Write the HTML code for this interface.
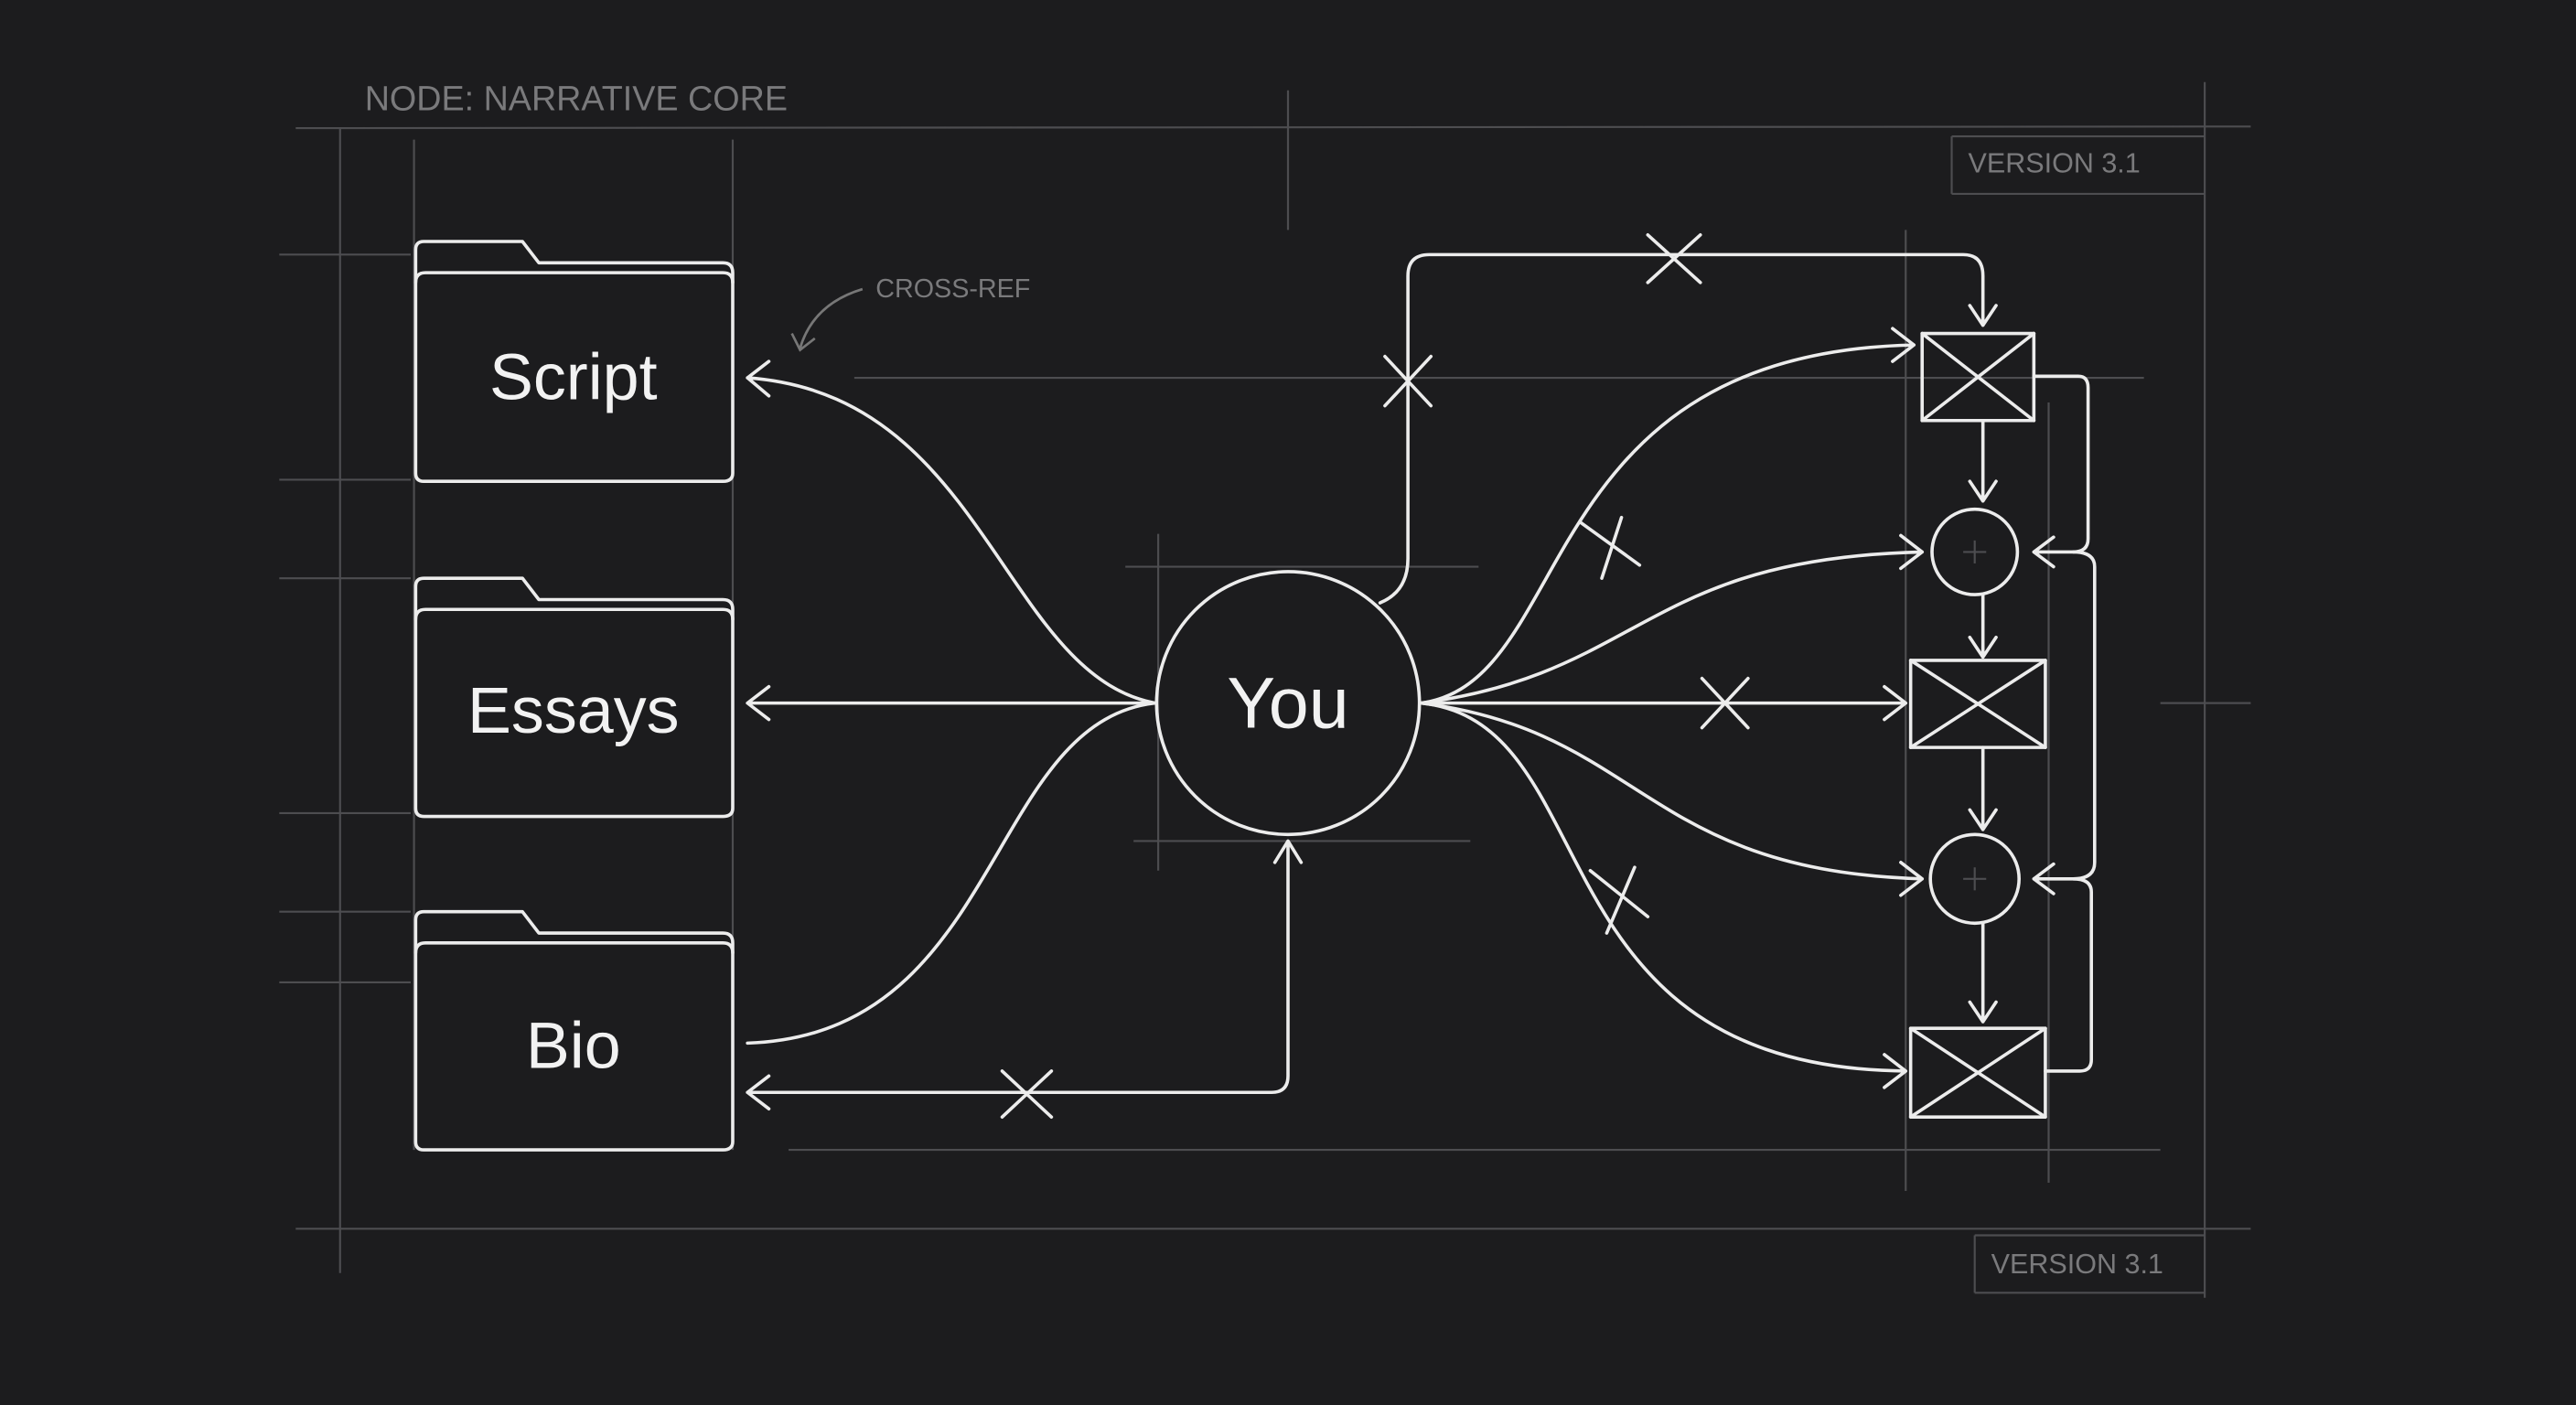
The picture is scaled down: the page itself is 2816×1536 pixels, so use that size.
<!DOCTYPE html>
<html><head><meta charset="utf-8"><style>
html,body{margin:0;padding:0;background:#1c1c1e;}
svg{display:block}
.g{stroke:#4d4d50;stroke-width:1.2;fill:none}
.w{stroke:#ececec;stroke-width:2;fill:none;stroke-linecap:round;stroke-linejoin:round}
.t{font-family:"Liberation Sans",sans-serif;fill:#f2f2f2}
.s{font-family:"Liberation Sans",sans-serif;fill:#7a7a7c}
</style></head><body>
<svg width="2816" height="1536" viewBox="0 0 1568 855.3" preserveAspectRatio="none" xmlns="http://www.w3.org/2000/svg">
<rect width="1568" height="856" fill="#1c1c1e"/>
<g class="g">
<line x1="180" y1="78" x2="1370" y2="77"/>
<line x1="180" y1="748" x2="1370" y2="748"/>
<line x1="480" y1="700" x2="1315" y2="700"/>
<line x1="520" y1="230" x2="1305" y2="230"/>
<line x1="207" y1="78" x2="207" y2="775"/>
<line x1="1342" y1="50" x2="1342" y2="790"/>
<line x1="252" y1="85" x2="252" y2="700"/>
<line x1="446" y1="85" x2="446" y2="700"/>
<line x1="784" y1="55" x2="784" y2="140"/>
<line x1="1160" y1="140" x2="1160" y2="725"/>
<line x1="1247" y1="245" x2="1247" y2="720"/>
<line x1="170" y1="155" x2="250" y2="155"/>
<line x1="170" y1="292" x2="250" y2="292"/>
<line x1="170" y1="352" x2="250" y2="352"/>
<line x1="170" y1="495" x2="250" y2="495"/>
<line x1="170" y1="555" x2="250" y2="555"/>
<line x1="170" y1="598" x2="250" y2="598"/>
<line x1="685" y1="345" x2="900" y2="345"/>
<line x1="690" y1="512" x2="895" y2="512"/>
<line x1="705" y1="325" x2="705" y2="530"/>
<line x1="1315" y1="428" x2="1370" y2="428"/>
<line x1="1188" y1="83" x2="1342" y2="83"/><line x1="1188" y1="83" x2="1188" y2="118"/><line x1="1188" y1="118" x2="1342" y2="118"/>
<line x1="1202" y1="752" x2="1342" y2="752"/><line x1="1202" y1="752" x2="1202" y2="787"/><line x1="1202" y1="787" x2="1342" y2="787"/>
<line x1="1195" y1="336" x2="1209" y2="336"/><line x1="1202" y1="329" x2="1202" y2="343"/>
<line x1="1195" y1="535" x2="1209" y2="535"/><line x1="1202" y1="528" x2="1202" y2="542"/>
</g>
<text class="s" x="222" y="67" font-size="21">NODE: NARRATIVE CORE</text>
<text class="s" x="1198" y="105" font-size="17">VERSION 3.1</text>
<text class="s" x="1212" y="775" font-size="17">VERSION 3.1</text>
<text class="s" x="533" y="181" font-size="16">CROSS-REF</text>
<path d="M525 176 Q495 185 487 212 M482 203 L487 213 L496 206" stroke="#777" stroke-width="1.5" fill="none"/>
<g class="w">
<path d="M253 152 Q253 147 258 147 L318 147 L328 160 L440 160 Q446 160 446 166 L446 288 Q446 293 440 293 L258 293 Q253 293 253 288 Z"/>
<path d="M253 172 Q253 166 259 166 L440 166 Q446 166 446 172"/>
<path d="M253 357 Q253 352 258 352 L318 352 L328 365 L440 365 Q446 365 446 371 L446 492 Q446 497 440 497 L258 497 Q253 497 253 492 Z"/>
<path d="M253 377 Q253 371 259 371 L440 371 Q446 371 446 377"/>
<path d="M253 560 Q253 555 258 555 L318 555 L328 568 L440 568 Q446 568 446 574 L446 695 Q446 700 440 700 L258 700 Q253 700 253 695 Z"/>
<path d="M253 580 Q253 574 259 574 L440 574 Q446 574 446 580"/>
<circle cx="784" cy="428" r="80"/>
<path d="M703 428 C610 410 600 240 455 230 M468 220 L455 230 L468 241"/>
<path d="M703 428 L455 428 M468 418 L455 428 L468 438"/>
<path d="M703 428 C600 440 610 630 455 635"/>
<path d="M784 512 L784 655 Q784 665 774 665 L455 665 M468 655 L455 665 L468 675 M776 525 L784 512 L792 525"/>
<path d="M610 652 L640 680 M640 652 L610 680"/>
<path d="M840 367 Q857 360 857 340 L857 168 Q857 155 870 155 L1195 155 Q1207 155 1207 168 L1207 198 M1199 186 L1207 198 L1215 186"/>
<path d="M1003 143 L1035 172 M1035 143 L1003 172"/>
<path d="M843 217 L871 247 M871 217 L843 247"/>
<rect x="1170" y="203" width="68" height="53"/><path d="M1170 203 L1238 256 M1238 203 L1170 256"/>
<circle cx="1202" cy="336" r="26"/>
<rect x="1163" y="402" width="82" height="53"/><path d="M1163 402 L1245 455 M1245 402 L1163 455"/>
<circle cx="1202" cy="535" r="27"/>
<rect x="1163" y="626" width="82" height="54"/><path d="M1163 626 L1245 680 M1245 626 L1163 680"/>
<path d="M1207 256 L1207 305 M1199 293 L1207 305 L1215 293"/>
<path d="M1207 362 L1207 400 M1199 388 L1207 400 L1215 388"/>
<path d="M1207 455 L1207 505 M1199 493 L1207 505 L1215 493"/>
<path d="M1207 562 L1207 622 M1199 610 L1207 622 L1215 610"/>
<path d="M865 428 C960 415 930 215 1165 210 M1152 200 L1165 210 L1152 220"/>
<path d="M865 428 C1000 410 1000 340 1170 336 M1157 326 L1170 336 L1157 346"/>
<path d="M865 428 L1160 428 M1147 418 L1160 428 L1147 438"/>
<path d="M865 428 C1000 445 1000 530 1170 535 M1157 525 L1170 535 L1157 545"/>
<path d="M865 428 C980 440 930 650 1160 652 M1147 642 L1160 652 L1147 662"/>
<path d="M962 318 L998 344 M987 315 L975 352"/>
<path d="M1036 413 L1064 443 M1064 413 L1036 443"/>
<path d="M968 530 L1003 558 M995 528 L978 568"/>
<path d="M1238 229 L1265 229 Q1271 229 1271 236 L1271 328 Q1271 336 1262 336 L1238 336 M1250 327 L1238 336 L1250 345"/>
<path d="M1262 336 Q1275 336 1275 345 L1275 525 Q1275 535 1262 535"/>
<path d="M1245 652 L1266 652 Q1273 652 1273 645 L1273 543 Q1273 535 1262 535 L1238 535 M1250 526 L1238 535 L1250 544"/>
</g>
<text class="t" x="349" y="243" font-size="40" text-anchor="middle">Script</text>
<text class="t" x="349" y="446" font-size="40" text-anchor="middle">Essays</text>
<text class="t" x="349" y="650" font-size="40" text-anchor="middle">Bio</text>
<text class="t" x="784" y="443" font-size="44" text-anchor="middle">You</text>
</svg>
</body></html>
